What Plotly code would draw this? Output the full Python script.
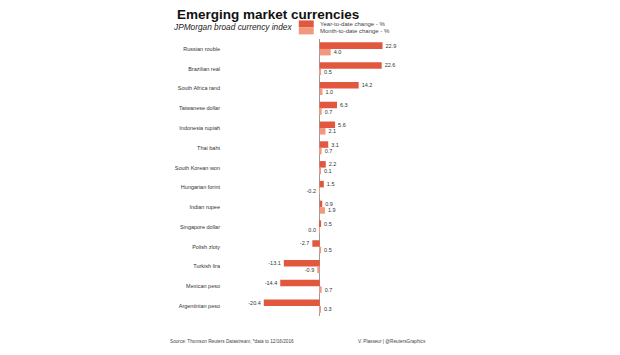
import plotly.graph_objects as go

currencies = ["Russian rouble", "Brazilian real", "South Africa rand", "Taiwanese dollar",
              "Indonesia rupiah", "Thai baht", "South Korean won", "Hungarian forint",
              "Indian rupee", "Singapore dollar", "Polish zloty", "Turkish lira",
              "Mexican peso", "Argentinian peso"]
ytd_change = [22.9, 22.6, 14.2, 6.3, 5.6, 3.1, 2.2, 1.5, 0.9, 0.5, -2.7, -13.1, -14.4, -20.4]
mtd_change = [4.0, 0.5, 1.0, 0.7, 2.1, 0.7, 0.1, -0.2, 1.9, -0.02, 0.5, -0.9, 0.7, 0.3]
ytd_labels = ["22.9", "22.6", "14.2", "6.3", "5.6", "3.1", "2.2", "1.5", "0.9", "0.5", "-2.7", "-13.1", "-14.4", "-20.4"]
mtd_labels = ["4.0", "0.5", "1.0", "0.7", "2.1", "0.7", "0.1", "-0.2", "1.9", "0.0", "0.5", "-0.9", "0.7", "0.3"]

YTD_COLOR = "#E2583E"
MTD_COLOR = "#F2987F"
FONT = "Liberation Sans, Arial, sans-serif"

# page offset (browser body margin)
OFF = 8
W, H = 620, 355
L, R, T, B = 225 - OFF, 217.5 + OFF, 38.6 - OFF, 39 + OFF
PW, PH = W - L - R, H - T - B

def px(x):
    return (x - OFF - L) / PW

def py(y):
    return (H - B - (y - OFF)) / PH

fig = go.Figure()
fig.add_trace(go.Bar(y=currencies, x=ytd_change, orientation="h", name="Year-to-date change - %",
                     marker=dict(color=YTD_COLOR, line=dict(width=0)),
                     text=ytd_labels, textposition="outside", cliponaxis=False,
                     textfont=dict(size=5.5, color="#333", family=FONT)))
fig.add_trace(go.Bar(y=currencies, x=mtd_change, orientation="h", name="Month-to-date change - %",
                     marker=dict(color=MTD_COLOR, line=dict(width=0)),
                     text=mtd_labels, textposition="outside", cliponaxis=False,
                     textfont=dict(size=5.5, color="#333", family=FONT)))

annotations = [
    dict(text="<b>Emerging market currencies</b>", x=px(175), y=py(14.5), xanchor="left", yanchor="middle",
         font=dict(size=13.5, color="#111", family=FONT)),
    dict(text="<i>JPMorgan broad currency index</i>", x=px(171), y=py(26.5), xanchor="left", yanchor="middle",
         font=dict(size=8.3, color="#222", family=FONT)),
    dict(text="Year-to-date change - %", x=px(318), y=py(23.5), xanchor="left", yanchor="middle",
         font=dict(size=6, color="#444", family=FONT)),
    dict(text="Month-to-date change - %", x=px(318), y=py(30.5), xanchor="left", yanchor="middle",
         font=dict(size=6, color="#444", family=FONT)),
    dict(text="Source: Thomson Reuters Datastream, *data to 12/16/2016", x=px(168), y=py(342),
         xanchor="left", yanchor="middle", font=dict(size=4.7, color="#444", family=FONT)),
    dict(text="V. Plasseur | @ReutersGraphics", x=px(356), y=py(342),
         xanchor="left", yanchor="middle", font=dict(size=4.7, color="#444", family=FONT)),
]
for a in annotations:
    a.update(xref="paper", yref="paper", showarrow=False)

shapes = [
    dict(type="rect", xref="paper", yref="paper", x0=px(299), x1=px(314), y0=py(20), y1=py(27),
         fillcolor=YTD_COLOR, line=dict(width=0)),
    dict(type="rect", xref="paper", yref="paper", x0=px(299), x1=px(314), y0=py(27), y1=py(34),
         fillcolor=MTD_COLOR, line=dict(width=0)),
]

fig.update_layout(
    width=W, height=H, margin=dict(l=L, r=R, t=T, b=B, pad=0),
    paper_bgcolor="white", plot_bgcolor="white",
    barmode="group", bargap=0.34, bargroupgap=0,
    showlegend=False, annotations=annotations, shapes=shapes,
    font=dict(family=FONT),
)
fig.update_xaxes(range=[-34.545, 30], showgrid=False, showticklabels=False, ticks="",
                 zeroline=True, zerolinecolor="#9a9a9a", zerolinewidth=1, showline=False, fixedrange=True)
fig.update_yaxes(autorange="reversed", showgrid=False, ticks="", showline=False,
                 tickfont=dict(size=5.5, color="#333", family=FONT), ticklabelstandoff=4)

fig.write_html("out.html")
